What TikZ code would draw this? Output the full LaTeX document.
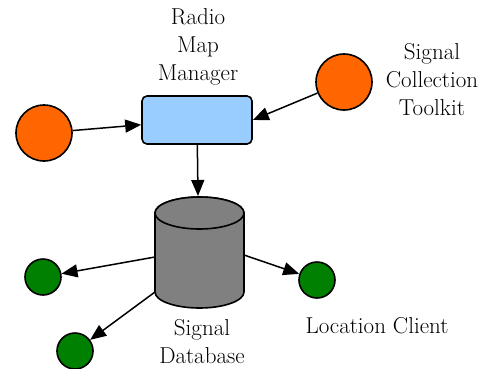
\documentclass[tikz,border=0pt]{standalone}
\usepackage{fontspec}
\usetikzlibrary{arrows.meta}
\definecolor{orng}{HTML}{FF6600}
\definecolor{lblue}{HTML}{99CCFF}
\definecolor{grn}{HTML}{008000}
\definecolor{dbgray}{HTML}{808080}
\begin{document}
\begin{tikzpicture}[x=1pt,y=-1pt,
  line width=1.6pt,
  arr/.style={-{Triangle[length=16pt,width=13pt]}, line width=1.5pt},
  srcnode/.style={circle, draw, fill=orng, minimum size=56pt, inner sep=0pt},
  clientnode/.style={circle, draw, fill=grn, minimum size=36pt, inner sep=0pt},
  lbl/.style={align=center, font=\rmfamily\fontsize{23}{28}\selectfont, inner sep=0pt}]
\useasboundingbox (0,0) rectangle (488,368);
% manager box
\node[draw, fill=lblue, rounded corners=5pt, minimum width=110pt, minimum height=48pt, inner sep=0pt] (mgr) at (197,120) {};
\node[lbl] (mgrlbl) at (198,47) {Radio\\Map\\Manager};
% source circles
\node[srcnode] (o1) at (44,133) {};
\node[srcnode] (o2) at (344,82) {};
\node[lbl] (o2lbl) at (432,80) {Signal\\Collection\\Toolkit};
% database cylinder
\path[draw, fill=dbgray] (155,213) -- (155,292) arc[start angle=180, end angle=360, x radius=44.5pt, y radius=16pt] -- (244,213) arc[start angle=0, end angle=180, x radius=44.5pt, y radius=16pt] -- cycle;
\draw[fill=dbgray] (199.5,213) ellipse[x radius=44.5pt, y radius=16pt];
\coordinate (dbtop) at (198,196);
\coordinate (dbl1) at (155,257);
\coordinate (dbl2) at (155,292);
\coordinate (dbr) at (244,255);
\node[lbl] (dblbl) at (202,342) {Signal\\Database};
% clients
\node[clientnode] (g1) at (43,277) {};
\node[clientnode] (g2) at (75,351) {};
\node[clientnode] (g3) at (317,280) {};
\node[lbl] (g3lbl) at (377,326) {Location Client};
% connectors
\draw[arr] (o1) -- (mgr);
\draw[arr] (o2) -- (mgr.east);
\draw[arr] (mgr) -- (dbtop);
\draw[arr] (dbl1) -- (g1);
\draw[arr] (dbl2) -- (g2);
\draw[arr] (dbr) -- (g3);
\end{tikzpicture}
\end{document}
